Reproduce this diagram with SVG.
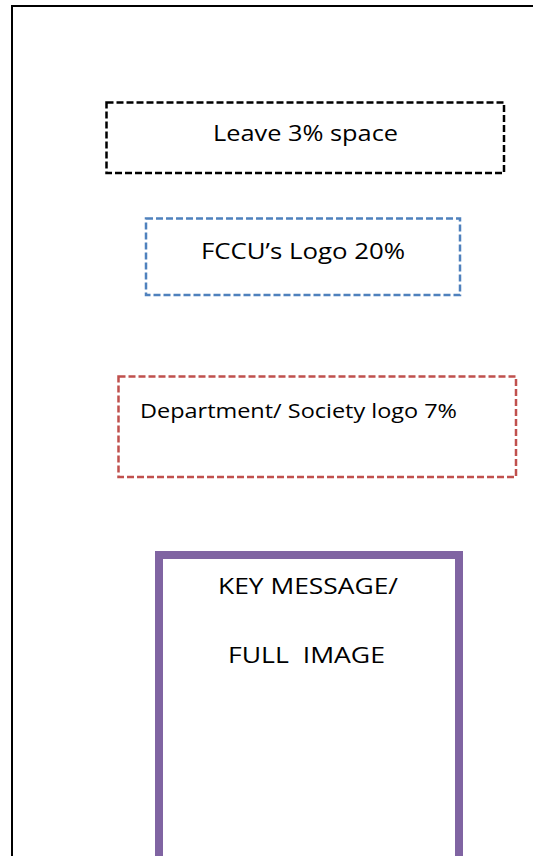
<svg xmlns="http://www.w3.org/2000/svg" width="533" height="856" viewBox="0 0 533 856">
<style>
.t{font-family:"Open Sans","Liberation Sans",sans-serif;fill:#000;}
.box{fill:none;stroke-width:2.5;stroke-dasharray:7 3;}
</style>
<rect width="533" height="856" fill="#fff"/>
<g id="frame"><rect x="12" y="6" width="540" height="870" fill="none" stroke="#000" stroke-width="2"/></g>
<g id="leave">
<rect class="box" x="106.5" y="102.5" width="397.5" height="70.5" stroke="#000"/>
<text class="t" x="213" y="141" font-size="22" textLength="185" lengthAdjust="spacingAndGlyphs">Leave 3% space</text>
</g>
<g id="fccu">
<rect class="box" x="146" y="218.5" width="314" height="76.5" stroke="#4f81bd"/>
<text class="t" x="201" y="259" font-size="22" textLength="204" lengthAdjust="spacingAndGlyphs">FCCU’s Logo 20%</text>
</g>
<g id="dept">
<rect class="box" x="118.5" y="376.5" width="397.5" height="100.5" stroke="#c0504d"/>
<text class="t" x="140" y="418" font-size="19.5" textLength="317" lengthAdjust="spacingAndGlyphs">Department/ Society logo 7%</text>
</g>
<g id="key">
<rect x="159" y="555" width="300" height="330" fill="none" stroke="#8064a2" stroke-width="8"/>
<text class="t" x="218" y="594" font-size="22" textLength="180" lengthAdjust="spacingAndGlyphs">KEY MESSAGE/</text>
<text class="t" x="228" y="663" font-size="22" textLength="157" lengthAdjust="spacingAndGlyphs" xml:space="preserve">FULL  IMAGE</text>
</g>
<g id="connectors"></g>
</svg>
